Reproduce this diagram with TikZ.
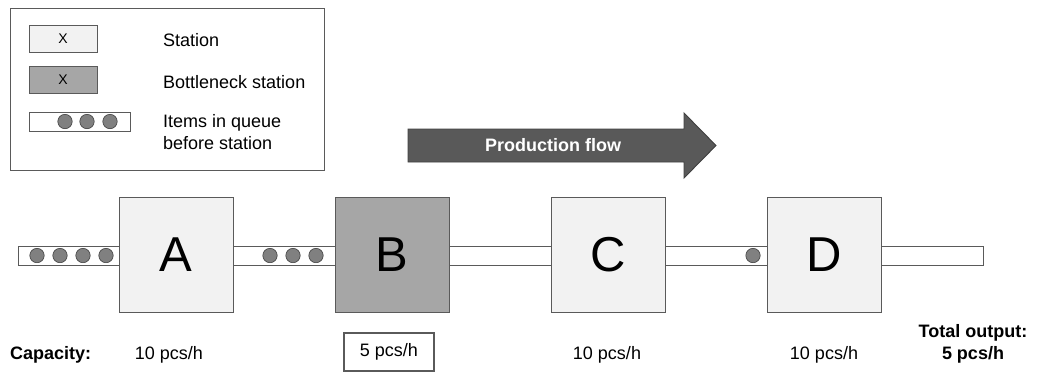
\documentclass[tikz,border=0pt]{standalone}
\usepackage{fontspec}
\setmainfont{Liberation Sans}
\definecolor{edge}{HTML}{5A5A5A}
\definecolor{stationfill}{HTML}{F2F2F2}
\definecolor{neckfill}{HTML}{A6A6A6}
\definecolor{itemfill}{HTML}{808080}
\definecolor{flowfill}{HTML}{595959}
\definecolor{flowedge}{HTML}{404040}
\begin{document}
\begin{tikzpicture}[x=1pt,y=-1pt,
  every node/.style={font=\fontsize{18}{22}\selectfont},
  station/.style={draw=edge, line width=0.9pt, fill=stationfill, minimum width=114pt,
    minimum height=115pt, inner sep=0pt, font=\fontsize{49}{49}\selectfont},
  neck/.style={station, fill=neckfill},
  queue/.style={draw=edge, line width=0.9pt, fill=white},
  item/.style={draw=flowedge, line width=0.6pt, fill=itemfill},
  keybox/.style={draw=edge, line width=0.9pt, minimum width=68pt, minimum height=27pt,
    inner sep=0pt, font=\fontsize{14}{14}\selectfont},
  keytext/.style={anchor=west, align=left, inner sep=0pt},
  rate/.style={inner sep=0pt}
]
\useasboundingbox (0,0) rectangle (1043,376);

% legend
\draw[draw=edge, line width=0.9pt] (10,8) rectangle (324,170);
\node[keybox, fill=stationfill] (kst) at (63,38.5) {X};
\node[keybox, fill=neckfill] (kbn) at (63,80) {X};
\draw[queue] (29,112) rectangle (130,131);
\foreach \x in {65,87,110} \draw[item] (\x,121.5) circle (7.2);
\node[keytext] (tst) at (163,40) {Station};
\node[keytext] (tbn) at (163,82) {Bottleneck station};
\node[keytext, anchor=north west] (tq) at (163,114) {Items in queue\\before station};

% production flow arrow
\draw[fill=flowfill, draw=flowedge, line width=0.9pt]
  (408,129) -- (684,129) -- (684,113) -- (716,145.5) -- (684,178) -- (684,162) -- (408,162) -- cycle;
\node[text=white, font=\fontsize{18}{18}\bfseries] (flow) at (553,145.5) {Production flow};

% queues between stations
\draw[queue] (18,246) rectangle (119,265);
\draw[queue] (233,246) rectangle (335,265);
\draw[queue] (449,246) rectangle (551,265);
\draw[queue] (665,246) rectangle (767,265);
\draw[queue] (881,246) rectangle (983,265);

% waiting items
\foreach \x in {37,60,83,106,270,293,316,753} \draw[item] (\x,255.5) circle (7.2);

% stations
\node[station] (A) at (176,254.5) {A};
\node[neck]    (B) at (392,254.5) {B};
\node[station] (C) at (608,254.5) {C};
\node[station] (D) at (824,254.5) {D};

% capacities
\node[anchor=west, inner sep=0pt, font=\fontsize{18}{22}\bfseries] (cap) at (10,355) {Capacity:};
\node[rate] (ra) at (169,355) {10 pcs/h};
\node[draw=edge, line width=2.5pt, fill=white, minimum width=90pt, minimum height=38pt, inner sep=0pt] (rb) at (389,352) {5 pcs/h};
\node[rate] (rc) at (607,355) {10 pcs/h};
\node[rate] (rd) at (824,355) {10 pcs/h};
\node[align=center, inner sep=0pt, font=\fontsize{18}{22}\bfseries] (tot) at (973,344) {Total output:\\5 pcs/h};
\end{tikzpicture}
\end{document}
